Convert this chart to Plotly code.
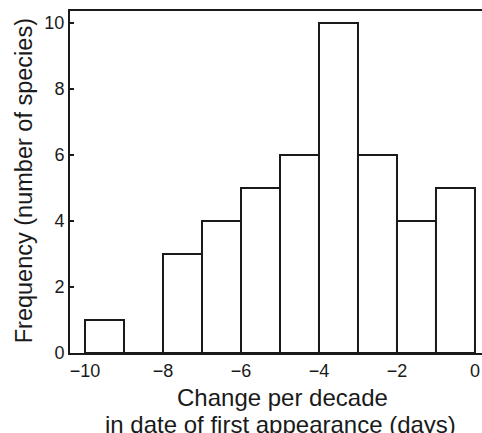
import plotly.graph_objects as go

bin_left = [-10, -9, -8, -7, -6, -5, -4, -3, -2, -1]
counts = [1, 0, 3, 4, 5, 6, 10, 6, 4, 5]
x_ticks = [-10, -8, -6, -4, -2, 0]
y_ticks = [0, 2, 4, 6, 8, 10]

centers = [b + 0.5 for b in bin_left]

fig = go.Figure(go.Bar(
    x=centers, y=counts, width=1,
    marker=dict(color="white", line=dict(color="#1a1a1a", width=2)),
))

font = "Liberation Sans, Arial, Helvetica, sans-serif"
fig.update_layout(
    width=482, height=433,
    margin=dict(l=70, r=0, t=11, b=80),
    plot_bgcolor="white", paper_bgcolor="white",
    showlegend=False,
    font=dict(family=font, size=18, color="#1a1a1a"),
    xaxis=dict(range=[-10.385, 0.18], tickvals=x_ticks, ticks="inside", ticklen=4,
               tickwidth=1.5, tickcolor="#1a1a1a", automargin=False,
               showline=True, linecolor="#1a1a1a", linewidth=2, mirror=True,
               showgrid=False, zeroline=False, tickfont=dict(size=18)),
    yaxis=dict(range=[0, 10.36], tickvals=y_ticks, ticks="inside", ticklen=4,
               tickwidth=1.5, tickcolor="#1a1a1a", automargin=False,
               showline=True, linecolor="#1a1a1a", linewidth=2, mirror=False,
               showgrid=False, zeroline=False, tickfont=dict(size=18)),
)
fig.add_annotation(text="Frequency (number of species)", xref="paper", yref="paper",
                   x=-0.1117, y=0.505, showarrow=False, textangle=-90,
                   font=dict(size=23.5), xanchor="center", yanchor="middle")
fig.add_annotation(text="Change per decade", xref="paper", yref="paper",
                   x=0.5146, y=-0.131, showarrow=False, font=dict(size=24),
                   xanchor="center", yanchor="middle")
fig.add_annotation(text="in date of first appearance (days)", xref="paper", yref="paper",
                   x=0.512, y=-0.208, showarrow=False, font=dict(size=24),
                   xanchor="center", yanchor="middle")

fig.write_html(
    "out.html",
    config={"displayModeBar": False},
    post_script="document.body.style.margin='0';document.body.style.overflow='hidden';",
)
